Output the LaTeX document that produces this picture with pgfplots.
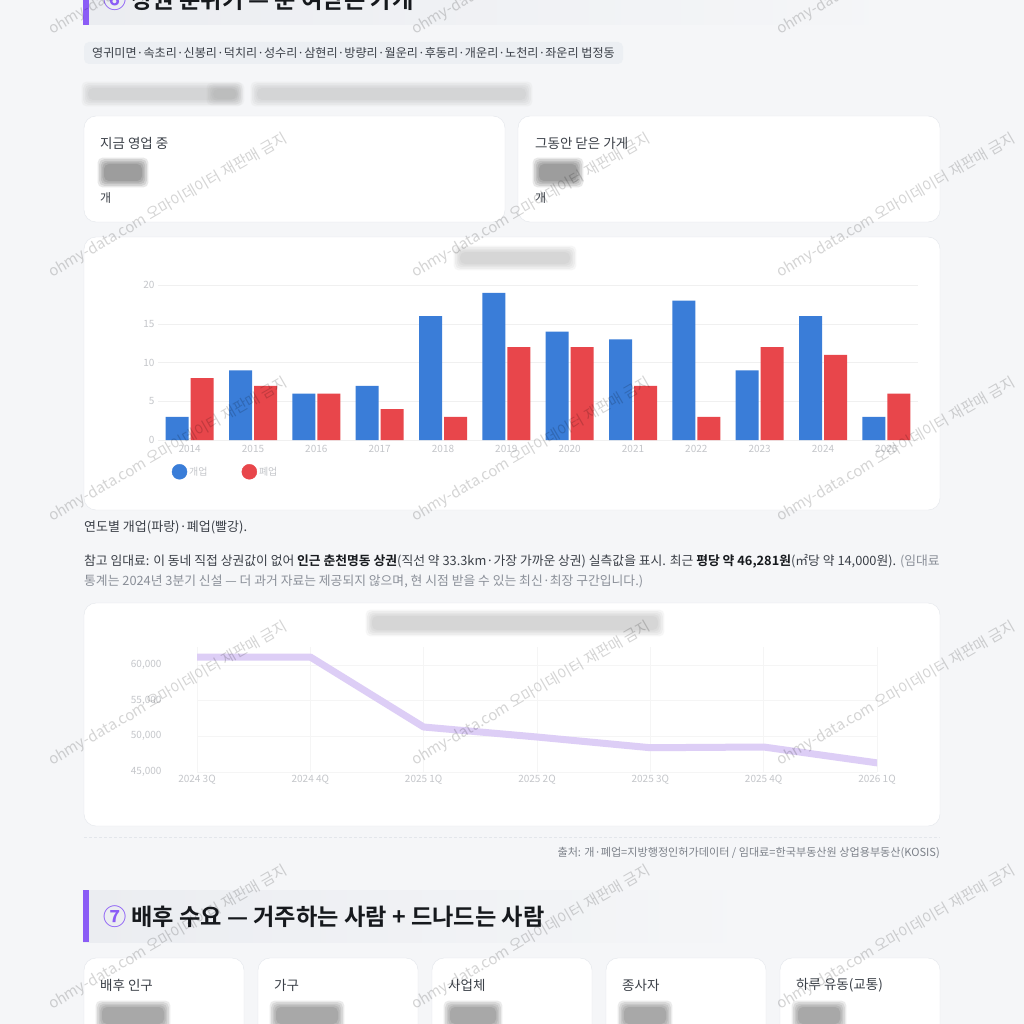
\documentclass[border=0pt]{standalone}
\usepackage{fontspec}
\setmainfont{Noto Sans CJK KR}[BoldFont={Noto Sans CJK KR Bold}]
\usepackage{pgfplots}
\pgfplotsset{compat=1.18}
\definecolor{pagebg}{HTML}{F5F6F8}
\definecolor{cardborder}{HTML}{E3E6EB}
\definecolor{hdrbg}{HTML}{EBEDF1}
\definecolor{tagbg}{HTML}{ECEFF3}
\definecolor{vio}{HTML}{8B5CF6}
\definecolor{barblue}{HTML}{3A7DD8}
\definecolor{barred}{HTML}{E8464B}
\definecolor{linelav}{HTML}{DDCEF6}
\definecolor{txt}{HTML}{3A3F47}
\definecolor{txtdark}{HTML}{16191D}
\definecolor{txtgray}{HTML}{8A8F98}
\definecolor{blurtxt}{HTML}{C4C6CA}
\newcommand\fs[1]{\fontsize{#1}{#1}\selectfont}
\newcommand\blob[6][gray]{%
  \foreach \i in {0,1,2,3,4}{%
    \fill[#1, opacity=#6, rounded corners=5pt] ({#2-\i*1.6},{#3-\i*1.6}) rectangle ({#4+\i*1.6},{#5+\i*1.6});}}
\begin{document}
\begin{tikzpicture}[x=1pt,y=-1pt]
\useasboundingbox (0,0) rectangle (1024,1024);
\clip (0,0) rectangle (1024,1024);
\fill[pagebg] (0,0) rectangle (1024,1024);
% header 6
\shade[left color=hdrbg, right color=pagebg] (83,-30) rectangle (910,25);
\fill[vio] (83,-30) rectangle (89,25);
\node[anchor=west, font=\fs{23.2}\bfseries, text=txtdark, inner sep=0] at (103,0) {{\color{vio}⑥}\hspace{5pt}상권 분위기 — 문 여닫은 가게};
% tag pill
\fill[tagbg, rounded corners=5pt] (84,42) rectangle (623,64);
\node[anchor=west, font=\fs{12.1}, text=txt, inner sep=0] at (92,53) {영귀미면·속초리·신봉리·덕치리·성수리·삼현리·방량리·월운리·후동리·개운리·노천리·좌운리 법정동};
% blurred subtitle
\blob{88}{88}{236}{100}{0.06}
\blob{213}{89}{238}{99}{0.06}
\blob{257}{88}{526}{100}{0.06}
% stat cards
\draw[cardborder, fill=white, rounded corners=12pt] (84,116) rectangle (505,222);
\draw[cardborder, fill=white, rounded corners=12pt] (518,116) rectangle (940,222);
\node[anchor=west, font=\fs{13.5}, text=txt, inner sep=0] at (100,143) {지금 영업 중};
\node[anchor=west, font=\fs{13.5}, text=txt, inner sep=0] at (535,143) {그동안 닫은 가게};
\blob[black]{104}{164}{142}{181}{0.09}
\blob[black]{539}{164}{577}{181}{0.09}
\node[anchor=west, font=\fs{12}, text=txt, inner sep=0] at (100,198) {개};
\node[anchor=west, font=\fs{12}, text=txt, inner sep=0] at (535,198) {개};
% chart cards
\draw[cardborder, fill=white, rounded corners=12pt] (84,237) rectangle (940,510);
\draw[cardborder, fill=white, rounded corners=12pt] (84,603) rectangle (940,826);
\blob{460}{252}{570}{264}{0.07}
\blob{372}{616}{658}{630}{0.07}
% bar chart
\begin{axis}[at={(158pt,-440pt)}, anchor=south west, width=760pt, height=155pt, scale only axis,
  xmin=-0.5, xmax=11.5, ymin=0, ymax=20,
  axis line style={draw=none}, major tick length=0pt,
  ytick={0,5,10,15,20}, xtick={0,...,11},
  xticklabels={2014,2015,2016,2017,2018,2019,2020,2021,2022,2023,2024,2025},
  xticklabel style={yshift=-2pt},
  ymajorgrids, grid style={black!6},
  /pgf/number format/assume math mode=true,
  tick label style={font=\fs{10}, text=blurtxt},
  legend style={at={(0.014,-0.205)}, anchor=west, draw=none, fill=none, font=\fs{10}, text=blurtxt,
    legend columns=2, /tikz/every even column/.append style={column sep=32pt}},
  legend cell align=left]
\addplot[ybar, bar width=23pt, bar shift=-12.5pt, fill=barblue, draw=none, forget plot] coordinates {(0,3) (1,9) (2,6) (3,7) (4,16) (5,19) (6,14) (7,13) (8,18) (9,9) (10,16) (11,3)};
\addplot[ybar, bar width=23pt, bar shift=12.5pt, fill=barred, draw=none, forget plot] coordinates {(0,8) (1,7) (2,6) (3,4) (4,3) (5,12) (6,12) (7,7) (8,3) (9,12) (10,11) (11,6)};
\addlegendimage{legend image code/.code={\fill[barblue] (0.2cm,0cm) circle (7.5pt);}}
\addlegendentry{개업}
\addlegendimage{legend image code/.code={\fill[barred] (0.2cm,0cm) circle (7.5pt);}}
\addlegendentry{폐업}
\end{axis}
% captions
\node[anchor=west, font=\fs{13}, text=txt, inner sep=0] at (84,527) {연도별 개업(파랑)·폐업(빨강).};
\node[anchor=west, font=\fs{12.8}, text=txt, inner sep=0] at (84,561) {참고 임대료: 이 동네 직접 상권값이 없어 {\color{txtdark}\bfseries 인근 춘천명동 상권}(직선 약 33.3km·가장 가까운 상권) 실측값을 표시. 최근 {\color{txtdark}\bfseries 평당 약 46,281원}(㎡당 약 14,000원). {\color{txtgray}(임대료}};
\node[anchor=west, font=\fs{12.8}, text=txtgray, inner sep=0] at (84,581) {통계는 2024년 3분기 신설 — 더 과거 자료는 제공되지 않으며, 현 시점 받을 수 있는 최신·최장 구간입니다.)};
% line chart
\begin{axis}[at={(197pt,-772pt)}, anchor=south west, width=680pt, height=125pt, scale only axis,
  xmin=0, xmax=6, ymin=45000, ymax=62500,
  axis line style={draw=none}, major tick length=0pt,
  ytick={45000,50000,55000,60000}, xtick={0,...,6},
  xticklabels={2024 3Q,2024 4Q,2025 1Q,2025 2Q,2025 3Q,2025 4Q,2026 1Q},
  scaled y ticks=false,
  /pgf/number format/fixed, /pgf/number format/1000 sep={,},
  /pgf/number format/assume math mode=true,
  yticklabel style={xshift=-32pt},
  xticklabel style={yshift=1pt},
  xmajorgrids, ymajorgrids, grid style={black!4},
  tick label style={font=\fs{10}, text=blurtxt}]
\addplot[linelav, line width=7pt, line join=round, line cap=round] coordinates {(0,61100) (1,61100) (2,51300) (3,49900) (4,48400) (5,48500) (6,46281)};
\end{axis}
% separator and source
\draw[cardborder, dash pattern=on 3pt off 2pt] (84,837) -- (940,837);
\node[anchor=east, font=\fs{11.1}, text=txtgray!90!black, inner sep=0] at (940,853) {출처: 개·폐업=지방행정인허가데이터 / 임대료=한국부동산원 상업용부동산(KOSIS)};
% header 7
\shade[left color=hdrbg, right color=pagebg] (83,890) rectangle (760,942);
\fill[vio] (83,890) rectangle (89,942);
\node[anchor=west, font=\fs{23.2}\bfseries, text=txtdark, inner sep=0] at (103,917) {{\color{vio}⑦}\hspace{5pt}배후 수요 — 거주하는 사람 + 드나드는 사람};
% bottom cards
\foreach \cx/\lab/\bw in {84/배후 인구/62, 258/가구/62, 432/사업체/46, 606/종사자/42, 780/하루 유동(교통)/42}{
  \draw[cardborder, fill=white, rounded corners=12pt] (\cx,958) rectangle ({\cx+160},1060);
  \node[anchor=west, font=\fs{13.5}, text=txt, inner sep=0] at ({\cx+16},985) {\lab};
  \blob[black]{\cx+18}{1007}{\cx+18+\bw}{1024}{0.08}
}
% watermarks
\foreach \wx in {52,415,780}{\foreach \wy in {35,278,522,766,1010}{
  \node[rotate=30, anchor=base west, text=black, opacity=0.17, font=\fs{15}, inner sep=0] at (\wx,\wy) {ohmy-data.com 오마이데이터 재판매 금지};
}}
\end{tikzpicture}
\end{document}
